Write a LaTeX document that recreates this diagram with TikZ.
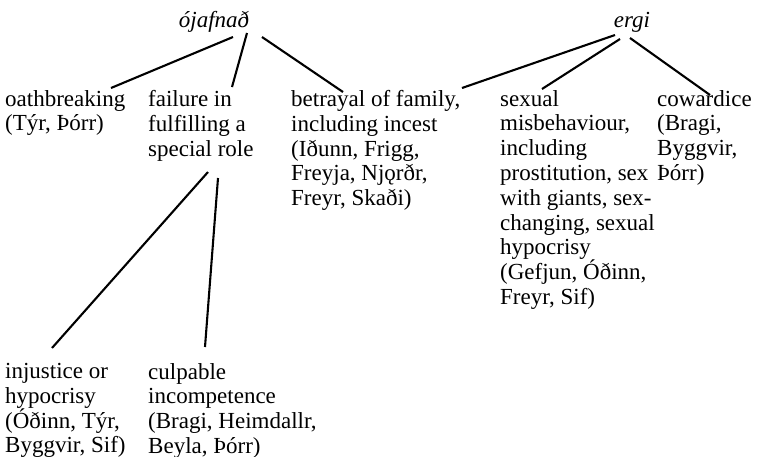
\documentclass[tikz,border=0pt]{standalone}
\usepackage{fontspec}
\setmainfont{Liberation Serif}
\usetikzlibrary{positioning}

\tikzset{
  head/.style={anchor=base, inner sep=0pt, font=\fontsize{23}{24.8}\selectfont\itshape},
  fault/.style={anchor=north west, inner sep=0pt, align=left,
    font=\fontsize{23}{24.8}\selectfont, execute at begin node=\strut},
  link/.style={line width=2.1pt}
}

\begin{document}
\begin{tikzpicture}[x=1pt,y=-1pt]
    \useasboundingbox (0,0) rectangle (761,456);

    % --- Heads ---
    \node[head] (ojafnad) at (214,27) {ójafnað};
    \node[head] (ergi) at (632,27) {ergi};

    % --- First row ---
    \node[fault] (oath) at (5,90) {oathbreaking\\(Týr, Þórr)};
    \node[fault] (failure) at (148,90) {failure in\\fulfilling a\\special role};
    \node[fault] (betrayal) at (291,90) {betrayal of family,\\including incest\\(Iðunn, Frigg,\\Freyja, Njǫrðr,\\Freyr, Skaði)};
    \node[fault] (sexual) at (500,90) {sexual\\misbehaviour,\\including\\prostitution, sex\\with giants, sex-\\changing, sexual\\hypocrisy\\(Gefjun, Óðinn,\\Freyr, Sif)};
    \node[fault] (coward) at (657,90) {cowardice\\(Bragi,\\Byggvir,\\Þórr)};

    % --- Second row (under failure) ---
    \node[fault] (injustice) at (5,363) {injustice or\\hypocrisy\\(Óðinn, Týr,\\Byggvir, Sif)};
    \node[fault] (culpable) at (148,363) {culpable\\incompetence\\(Bragi, Heimdallr,\\Beyla, Þórr)};

    % --- Branches of ojafnad ---
    \draw[link] ([shift={(19,10)}]ojafnad.base) -- ([shift={(106,-2)}]oath.north west);
    \draw[link] ([shift={(33,6)}]ojafnad.base) -- ([shift={(84,-3)}]failure.north west);
    \draw[link] ([shift={(48,10)}]ojafnad.base) -- ([shift={(52,2)}]betrayal.north west);

    % --- Branches of failure ---
    \draw[link] ([shift={(60,82)}]failure.north west) -- ([shift={(47,-15)}]injustice.north west);
    \draw[link] ([shift={(70,88)}]failure.north west) -- ([shift={(57,-16)}]culpable.north west);

    % --- Branches of ergi ---
    \draw[link] ([shift={(-17,8)}]ergi.base) -- ([shift={(171,-2)}]betrayal.north west);
    \draw[link] ([shift={(-12,12)}]ergi.base) -- ([shift={(42,-1)}]sexual.north west);
    \draw[link] ([shift={(-2,11)}]ergi.base) -- ([shift={(53,5)}]coward.north west);

\end{tikzpicture}
\end{document}
